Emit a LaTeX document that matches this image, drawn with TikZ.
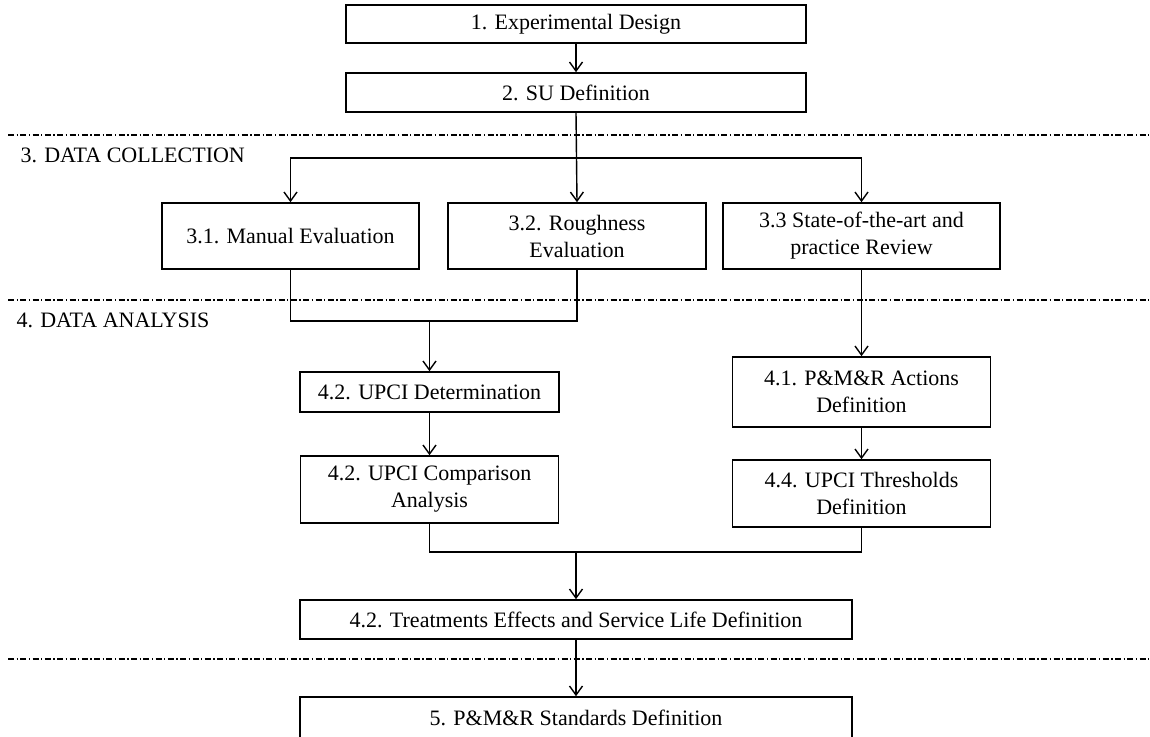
\documentclass[tikz,border=0pt]{standalone}
\usepackage{fontspec}
\setmainfont{Liberation Serif}
\usetikzlibrary{arrows.meta}
\tikzset{
    box/.style 2 args={draw, line width=1.6pt, align=center, inner sep=0pt,
        minimum width=#1pt, minimum height=#2pt},
    divider/.style={line width=1.3pt, dash pattern=on 6pt off 2.5pt on 1.3pt off 2.5pt},
    flow/.style={line width=1.4pt, -{Straight Barb[length=9pt,width=13pt,line width=1.4pt]}},
    link/.style={line width=1.4pt}
}

\begin{document}
\begin{tikzpicture}[x=1pt, y=-1pt, every node/.style={font=\fontsize{22}{27}\selectfont}]
    \useasboundingbox (0,0) rectangle (1150,736);
    \draw[divider] (8,135) -- (1150,135);
    \draw[divider] (8,300) -- (1150,300);
    \draw[divider] (8,659) -- (1150,659);
    \node[anchor=base west] (collect) at (17,162) {3. DATA COLLECTION};
    \node[anchor=base west] (analysis) at (13,327) {4. DATA ANALYSIS};
    \node[box={460}{38.5}] (design) at (576,24) {1. Experimental Design};
    \node[box={460}{39}] (sudef) at (576,92.5) {2. SU Definition};
    \node[box={257}{66}] (manual) at (290.5,236) {3.1. Manual Evaluation};
    \node[box={258}{66}] (rough) at (577,236) {3.2. Roughness\\Evaluation};
    \node[box={277}{66}] (review) at (861.5,236) {3.3 State-of-the-art and\\practice Review};
    \node[box={259}{40}] (upcidet) at (429.5,392) {4.2. UPCI Determination};
    \node[box={258}{67}] (upcicomp) at (429.5,489.5) {4.2. UPCI Comparison\\Analysis};
    \node[box={258}{70}] (actions) at (861.5,392) {4.1. P\&M\&R Actions\\Definition};
    \node[box={258}{67}] (thresh) at (861.5,493.5) {4.4. UPCI Thresholds\\Definition};
    \node[box={552}{39}] (treat) at (576,619.5) {4.2. Treatments Effects and Service Life Definition};
    \node[box={552}{42}] (standards) at (576,718) {5. P\&M\&R Standards Definition};
    \coordinate (split) at (577,158);
    \coordinate (join) at (429.5,321);
    \coordinate (merge) at (576,552);
    \draw[flow] (design) -- (sudef);
    \draw[flow] (sudef.south) -- (rough.north);
    \draw[flow] (split) -| (manual.north);
    \draw[flow] (split) -| (review.north);
    \draw[link] (manual.south) |- (join) -| (rough.south);
    \draw[flow] (join) -- (upcidet.north);
    \draw[flow] (review) -- (actions);
    \draw[flow] (actions) -- (thresh);
    \draw[flow] (upcidet) -- (upcicomp);
    \draw[link] (upcicomp.south) |- (merge) -| (thresh.south);
    \draw[flow] (merge) -- (treat.north);
    \draw[flow] (treat) -- (standards);
\end{tikzpicture}
\end{document}
